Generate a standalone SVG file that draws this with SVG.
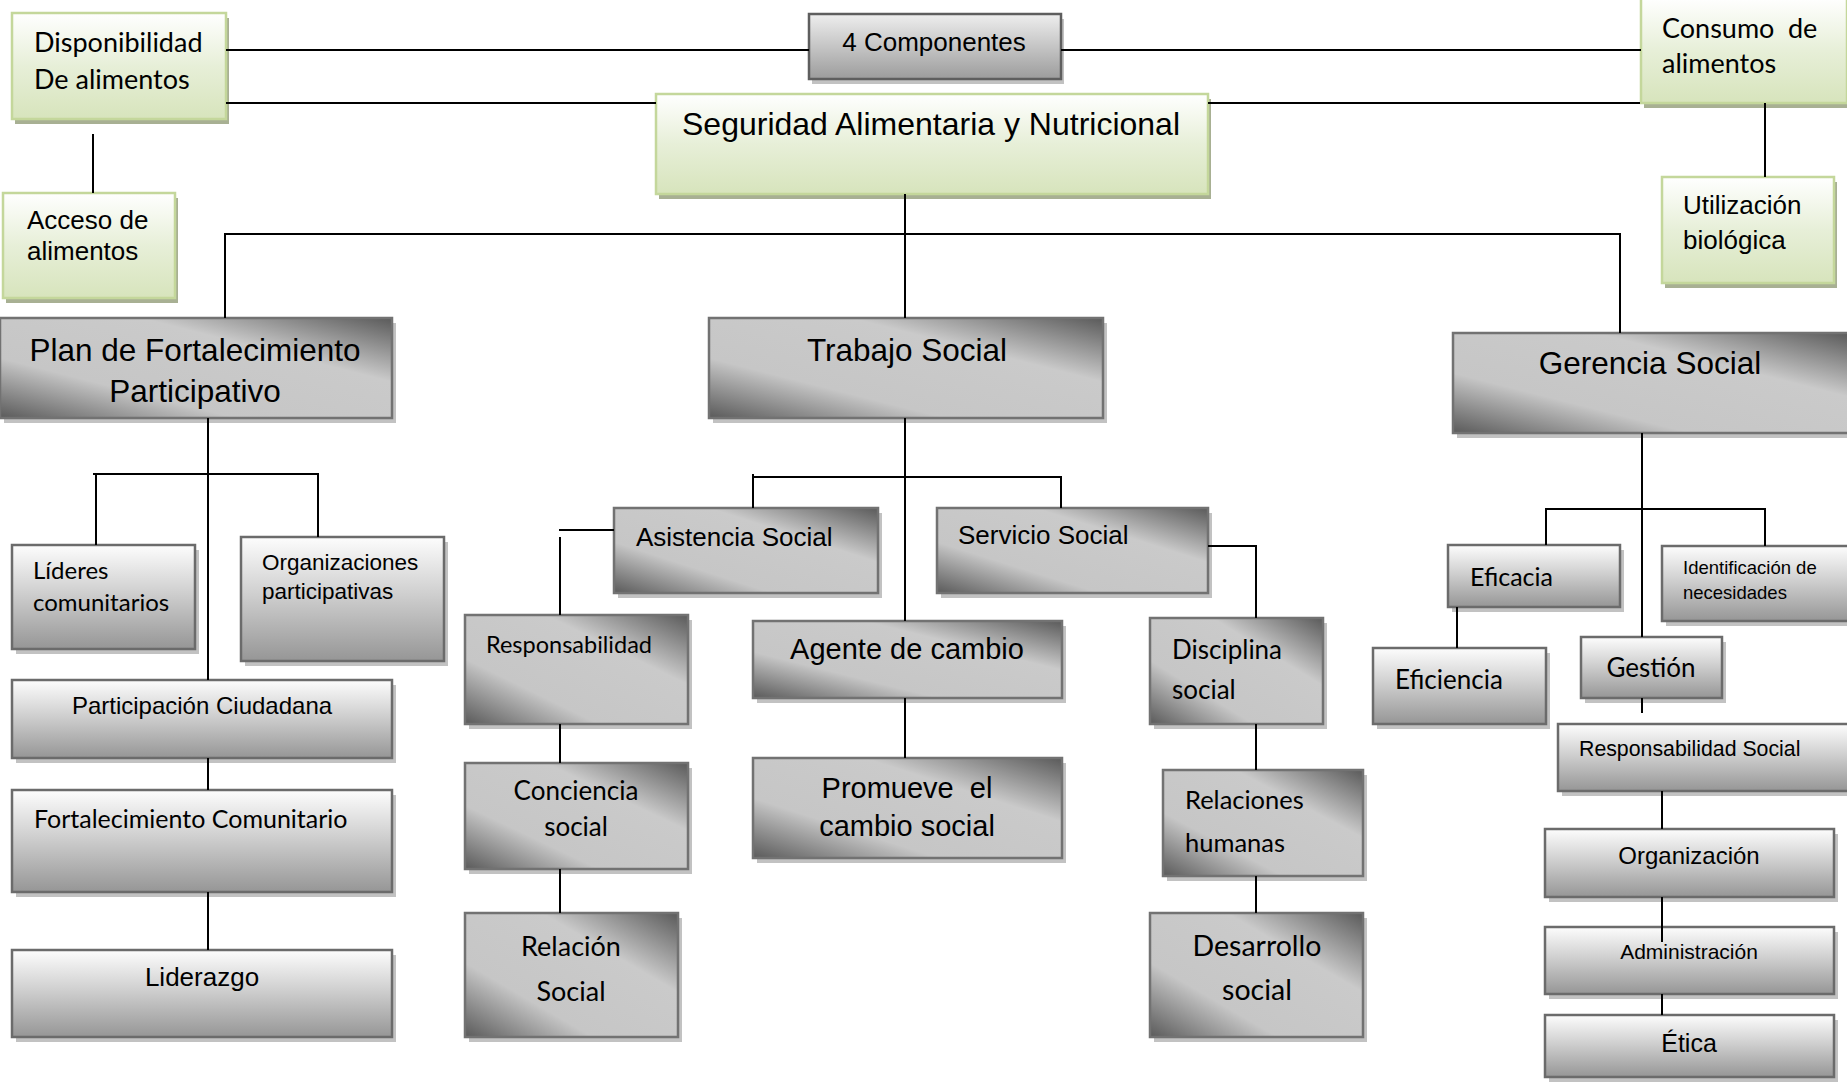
<svg xmlns="http://www.w3.org/2000/svg" width="1847" height="1082" viewBox="0 0 1847 1082">
<defs>
<linearGradient id="gv" x1="0" y1="0" x2="0" y2="1">
<stop offset="0" stop-color="#fdfdfd"/><stop offset="0.45" stop-color="#d0d0d0"/><stop offset="1" stop-color="#969696"/>
</linearGradient>
<linearGradient id="gc" x1="0" y1="0" x2="0" y2="1">
<stop offset="0" stop-color="#eeeeee"/><stop offset="1" stop-color="#9c9c9c"/>
</linearGradient>
<linearGradient id="gn" x1="0" y1="0" x2="0" y2="1">
<stop offset="0" stop-color="#ffffff"/><stop offset="0.5" stop-color="#e7efd8"/><stop offset="1" stop-color="#d7e4bc"/>
</linearGradient>
<linearGradient id="gd" x1="0" y1="1" x2="1" y2="0">
<stop offset="0" stop-color="#5a5a5a"/><stop offset="0.3" stop-color="#c6c6c6"/><stop offset="0.68" stop-color="#cacaca"/><stop offset="1" stop-color="#5a5a5a"/>
</linearGradient>
<style>
.sg{fill:#c2c2c2}
.sn{fill:#a8b093}
.bv{fill:url(#gv);stroke:#6b6b6b;stroke-width:2.5}
.bc{fill:url(#gc);stroke:#5e5e5e;stroke-width:2.5}
.bn{fill:url(#gn);stroke:#c4d79b;stroke-width:2.5}
.bd{fill:url(#gd);stroke:#727272;stroke-width:2.5}
.a{font-family:"Liberation Sans",Arial,sans-serif;fill:#000}
.c{font-family:Lato,"Liberation Sans",sans-serif;fill:#000}
.m{text-anchor:middle}
.conn path{stroke:#000;stroke-width:2;fill:none}
</style>
</defs>
<rect width="1847" height="1082" fill="#ffffff"/>

<g id="disponibilidad">
<rect class="sn" x="15" y="18" width="214" height="106"/>
<rect class="bn" x="12" y="13" width="214" height="106"/>
<text class="c" font-size="27" x="34" y="52">Disponibilidad</text>
<text class="c" font-size="27" x="34" y="89">De alimentos</text>
</g>
<g id="acceso">
<rect class="sn" x="6" y="198" width="172" height="105"/>
<rect class="bn" x="3" y="193" width="172" height="105"/>
<text class="a" font-size="26" x="27" y="229">Acceso de</text>
<text class="a" font-size="26" x="27" y="260">alimentos</text>
</g>
<g id="componentes">
<rect class="sg" x="812" y="19" width="252" height="65"/>
<rect class="bc" x="809" y="14" width="252" height="65"/>
<text class="a m" font-size="26" x="934" y="51">4 Componentes</text>
</g>
<g id="seguridad">
<rect class="sn" x="659" y="99" width="552" height="100"/>
<rect class="bn" x="656" y="94" width="552" height="100"/>
<text class="a m" font-size="32" x="931" y="135">Seguridad Alimentaria y Nutricional</text>
</g>
<g id="consumo">
<rect class="sn" x="1644" y="3" width="206" height="105"/>
<rect class="bn" x="1641" y="-2" width="206" height="105"/>
<text class="c" font-size="27" y="38"><tspan x="1662">Consumo</tspan><tspan x="1788">de</tspan></text>
<text class="c" font-size="27" x="1662" y="73">alimentos</text>
</g>
<g id="utilizacion">
<rect class="sn" x="1665" y="182" width="172" height="106"/>
<rect class="bn" x="1662" y="177" width="172" height="106"/>
<text class="a" font-size="26" x="1683" y="214">Utilización</text>
<text class="a" font-size="26" x="1683" y="249">biológica</text>
</g>

<g id="plan">
<rect class="sg" x="4" y="323" width="392" height="100"/>
<rect class="bd" x="0" y="318" width="392" height="100"/>
<text class="a m" font-size="31.5" x="195" y="361">Plan de Fortalecimiento</text>
<text class="a m" font-size="31.5" x="195" y="402">Participativo</text>
</g>
<g id="trabajo">
<rect class="sg" x="713" y="323" width="394" height="100"/>
<rect class="bd" x="709" y="318" width="394" height="100"/>
<text class="a m" font-size="31.5" x="907" y="361">Trabajo Social</text>
</g>
<g id="gerencia">
<rect class="sg" x="1457" y="338" width="396" height="100"/>
<rect class="bd" x="1453" y="333" width="396" height="100"/>
<text class="a m" font-size="31.5" x="1650" y="374">Gerencia Social</text>
</g>

<g id="lideres">
<rect class="sg" x="16" y="550" width="183" height="104"/>
<rect class="bv" x="12" y="545" width="183" height="104"/>
<text class="c" font-size="24" x="33" y="579">Líderes</text>
<text class="c" font-size="24" x="33" y="611">comunitarios</text>
</g>
<g id="organizaciones">
<rect class="sg" x="245" y="542" width="203" height="124"/>
<rect class="bv" x="241" y="537" width="203" height="124"/>
<text class="a" font-size="22.5" x="262" y="570">Organizaciones</text>
<text class="a" font-size="22.5" x="262" y="599">participativas</text>
</g>
<g id="participacion">
<rect class="sg" x="16" y="685" width="380" height="78"/>
<rect class="bv" x="12" y="680" width="380" height="78"/>
<text class="a m" font-size="24" x="202" y="714">Participación Ciudadana</text>
</g>
<g id="fortalecimiento">
<rect class="sg" x="16" y="795" width="380" height="102"/>
<rect class="bv" x="12" y="790" width="380" height="102"/>
<text class="c" font-size="25" x="34" y="828">Fortalecimiento Comunitario</text>
</g>
<g id="liderazgo">
<rect class="sg" x="16" y="955" width="380" height="87"/>
<rect class="bv" x="12" y="950" width="380" height="87"/>
<text class="a m" font-size="26" x="202" y="986">Liderazgo</text>
</g>

<g id="asistencia">
<rect class="sg" x="618" y="513" width="264" height="85"/>
<rect class="bd" x="614" y="508" width="264" height="85"/>
<text class="a" font-size="26" x="636" y="546">Asistencia Social</text>
</g>
<g id="servicio">
<rect class="sg" x="941" y="513" width="271" height="85"/>
<rect class="bd" x="937" y="508" width="271" height="85"/>
<text class="a" font-size="26" x="958" y="544">Servicio Social</text>
</g>
<g id="responsabilidad">
<rect class="sg" x="469" y="620" width="223" height="109"/>
<rect class="bd" x="465" y="615" width="223" height="109"/>
<text class="c" font-size="23.5" x="486" y="653">Responsabilidad</text>
</g>
<g id="agente">
<rect class="sg" x="757" y="626" width="309" height="77"/>
<rect class="bd" x="753" y="621" width="309" height="77"/>
<text class="a m" font-size="29" x="907" y="659">Agente de cambio</text>
</g>
<g id="disciplina">
<rect class="sg" x="1154" y="623" width="173" height="106"/>
<rect class="bd" x="1150" y="618" width="173" height="106"/>
<text class="c" font-size="26" x="1172" y="659">Disciplina</text>
<text class="c" font-size="26" x="1172" y="699">social</text>
</g>
<g id="conciencia">
<rect class="sg" x="469" y="768" width="223" height="106"/>
<rect class="bd" x="465" y="763" width="223" height="106"/>
<text class="c m" font-size="26" x="576" y="800">Conciencia</text>
<text class="c m" font-size="26" x="576" y="836">social</text>
</g>
<g id="relacion">
<rect class="sg" x="469" y="918" width="213" height="124"/>
<rect class="bd" x="465" y="913" width="213" height="124"/>
<text class="c m" font-size="27" x="571" y="956">Relación</text>
<text class="c m" font-size="27" x="571" y="1001">Social</text>
</g>
<g id="promueve">
<rect class="sg" x="757" y="763" width="309" height="100"/>
<rect class="bd" x="753" y="758" width="309" height="100"/>
<text class="a m" font-size="29" x="907" y="798" xml:space="preserve">Promueve  el</text>
<text class="a m" font-size="29" x="907" y="836">cambio social</text>
</g>
<g id="relaciones">
<rect class="sg" x="1167" y="775" width="200" height="106"/>
<rect class="bd" x="1163" y="770" width="200" height="106"/>
<text class="c" font-size="25.5" x="1185" y="809">Relaciones</text>
<text class="c" font-size="25.5" x="1185" y="852">humanas</text>
</g>
<g id="desarrollo">
<rect class="sg" x="1154" y="918" width="213" height="124"/>
<rect class="bd" x="1150" y="913" width="213" height="124"/>
<text class="c m" font-size="28.5" x="1257" y="956">Desarrollo</text>
<text class="c m" font-size="28.5" x="1257" y="1000">social</text>
</g>

<g id="eficacia">
<rect class="sg" x="1452" y="550" width="172" height="62"/>
<rect class="bv" x="1448" y="545" width="172" height="62"/>
<text class="c" font-size="25" x="1470" y="586">Eficacia</text>
</g>
<g id="identificacion">
<rect class="sg" x="1666" y="551" width="187" height="75"/>
<rect class="bv" x="1662" y="546" width="187" height="75"/>
<text class="a" font-size="18.5" x="1683" y="574">Identificación de</text>
<text class="a" font-size="18.5" x="1683" y="599">necesidades</text>
</g>
<g id="eficiencia">
<rect class="sg" x="1377" y="653" width="173" height="76"/>
<rect class="bv" x="1373" y="648" width="173" height="76"/>
<text class="c" font-size="26" x="1395" y="689">Eficiencia</text>
</g>
<g id="gestion">
<rect class="sg" x="1585" y="642" width="141" height="61"/>
<rect class="bv" x="1581" y="637" width="141" height="61"/>
<text class="c m" font-size="26" x="1651" y="677">Gestión</text>
</g>
<g id="responsabilidad-social">
<rect class="sg" x="1562" y="729" width="291" height="67"/>
<rect class="bv" x="1558" y="724" width="291" height="67"/>
<text class="a" font-size="21.3" x="1579" y="756">Responsabilidad Social</text>
</g>
<g id="organizacion">
<rect class="sg" x="1549" y="834" width="289" height="68"/>
<rect class="bv" x="1545" y="829" width="289" height="68"/>
<text class="a m" font-size="24" x="1689" y="864">Organización</text>
</g>
<g id="administracion">
<rect class="sg" x="1549" y="932" width="289" height="67"/>
<rect class="bv" x="1545" y="927" width="289" height="67"/>
<text class="a m" font-size="21" x="1689" y="959">Administración</text>
</g>
<g id="etica">
<rect class="sg" x="1549" y="1020" width="289" height="62"/>
<rect class="bv" x="1545" y="1015" width="289" height="62"/>
<text class="a m" font-size="25" x="1689" y="1052">Ética</text>
</g>

<g id="connectors" class="conn">
<path d="M226,50 H809"/>
<path d="M1061,50 H1641"/>
<path d="M226,103 H656"/>
<path d="M1208,103 H1640"/>
<path d="M93,134 V193"/>
<path d="M1765,103 V177"/>
<path d="M905,194 V318"/>
<path d="M225,318 V234 H1620 V333"/>
<path d="M208,418 V680"/>
<path d="M93,474 H319"/>
<path d="M96,474 V545"/>
<path d="M318,474 V537"/>
<path d="M208,758 V790"/>
<path d="M208,892 V950"/>
<path d="M905,418 V621"/>
<path d="M753,474 V508"/>
<path d="M753,477 H1061 V508"/>
<path d="M559,530 H614"/>
<path d="M560,537 V615"/>
<path d="M560,724 V763"/>
<path d="M560,869 V913"/>
<path d="M905,698 V758"/>
<path d="M1208,546 H1256 V618"/>
<path d="M1256,724 V770"/>
<path d="M1256,876 V913"/>
<path d="M1642,433 V637"/>
<path d="M1546,545 V509 H1765 V546"/>
<path d="M1457,607 V648"/>
<path d="M1642,698 V713"/>
<path d="M1662,791 V829"/>
<path d="M1662,897 V942"/>
<path d="M1662,994 V1015"/>
</g>
</svg>
